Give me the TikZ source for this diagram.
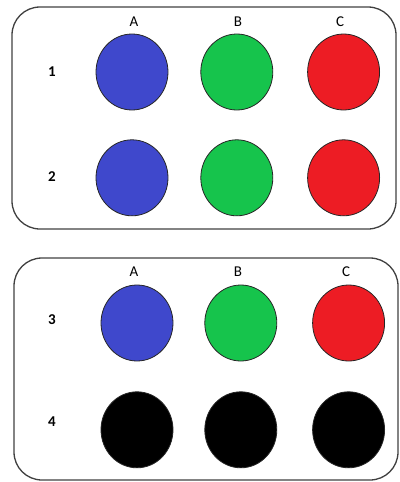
\documentclass[tikz,border=0pt]{standalone}
\usepackage{fontspec}
\setmainfont{Carlito}
\usetikzlibrary{shapes.geometric, positioning}
\definecolor{wellblue}{RGB}{63, 72, 204}
\definecolor{wellgreen}{RGB}{22, 196, 76}
\definecolor{wellred}{RGB}{237, 28, 36}
\tikzstyle{plate} = [draw=black!75, line width=1.3pt, rounded corners=28pt]
\tikzstyle{well} = [ellipse, minimum width=72pt, minimum height=76pt, inner sep=0pt, draw=black!85, line width=0.8pt]
\tikzstyle{collabel} = [font=\fontsize{15}{17}\selectfont, inner sep=0pt]
\tikzstyle{rowlabel} = [font=\fontsize{15}{17}\selectfont\bfseries, inner sep=0pt]

\begin{document}
\begin{tikzpicture}[x=1pt, y=-1pt]
    \useasboundingbox (0,0) rectangle (399,482);

    % Plates
    \draw [plate] (12,7) rectangle (396,229);
    \draw [plate] (14,258) rectangle (398,480);

    % Top plate wells
    \node (a1) [well, fill=wellblue] at (132,72) {};
    \node (b1) [well, fill=wellgreen, right=32pt of a1] {};
    \node (c1) [well, fill=wellred, right=34pt of b1] {};
    \node (a2) [well, fill=wellblue, below=29pt of a1] {};
    \node (b2) [well, fill=wellgreen, below=29pt of b1] {};
    \node (c2) [well, fill=wellred, below=29pt of c1] {};

    % Bottom plate wells
    \node (a3) [well, fill=wellblue] at (137,323) {};
    \node (b3) [well, fill=wellgreen, right=31pt of a3] {};
    \node (c3) [well, fill=wellred, right=35pt of b3] {};
    \node (a4) [well, fill=black, below=30pt of a3] {};
    \node (b4) [well, fill=black, below=30pt of b3] {};
    \node (c4) [well, fill=black, below=30pt of c3] {};

    % Column labels
    \node (topA) [collabel] at (134,22) {A};
    \node (topB) [collabel] at (238,22) {B};
    \node (topC) [collabel] at (340,22) {C};
    \node (botA) [collabel] at (134,272) {A};
    \node (botB) [collabel] at (238,272) {B};
    \node (botC) [collabel] at (346,272) {C};

    % Row labels
    \node (row1) [rowlabel] at (52,72) {1};
    \node (row2) [rowlabel] at (52,177) {2};
    \node (row3) [rowlabel] at (52,320) {3};
    \node (row4) [rowlabel] at (52,422) {4};

\end{tikzpicture}
\end{document}
